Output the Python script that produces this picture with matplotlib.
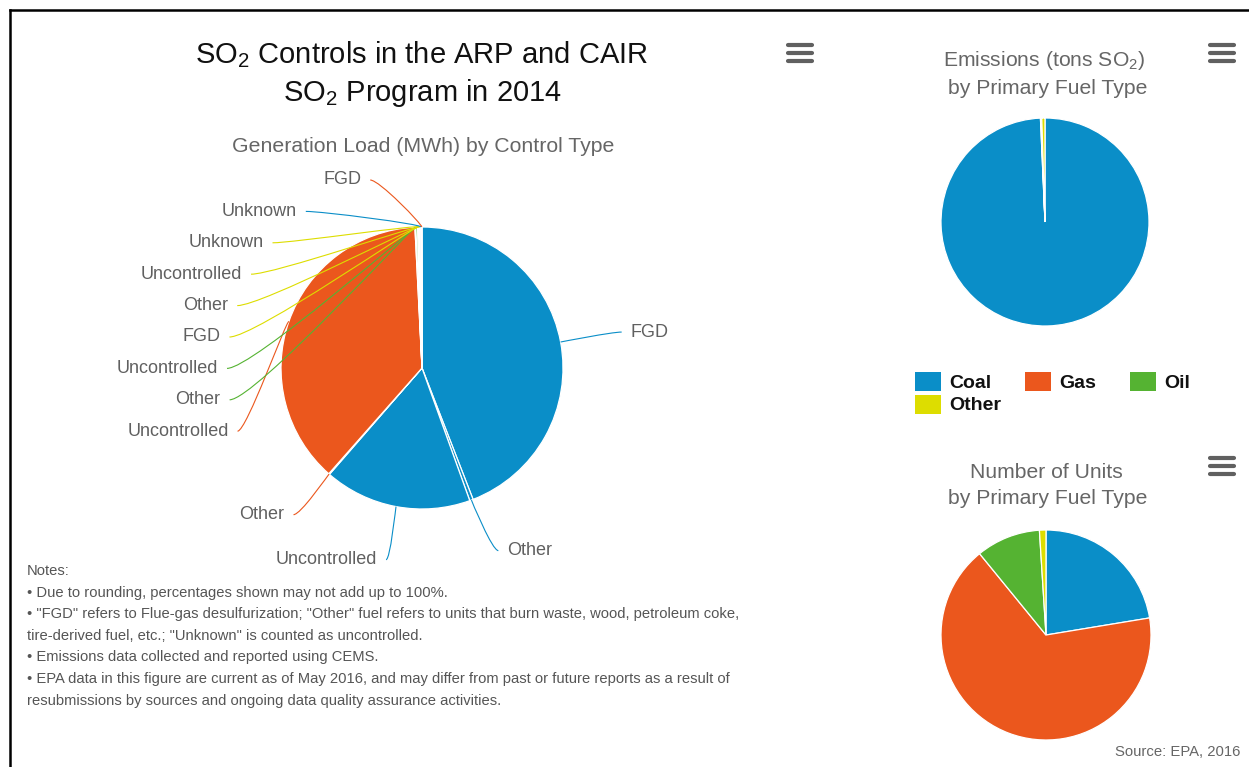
import matplotlib.pyplot as plt
import numpy as np
from matplotlib.path import Path
from matplotlib.patches import PathPatch, Rectangle

plt.rcParams['font.family'] = ['Liberation Sans', 'DejaVu Sans']
plt.rcParams['mathtext.fontset'] = 'custom'
plt.rcParams['mathtext.rm'] = 'Liberation Sans'

# generation load (MWh) by control type, percent of total, clockwise from top
gen_controls = ["FGD", "Other", "Uncontrolled", "Other", "Uncontrolled", "Other",
                "Uncontrolled", "FGD", "Other", "Uncontrolled", "Unknown", "Unknown", "FGD"]
gen_fuels = ["Coal", "Coal", "Coal", "Gas", "Gas", "Oil",
             "Oil", "Other", "Other", "Other", "Other", "Coal", "Gas"]
gen_values = [44.1, 0.4, 16.9, 0.1, 37.7, 0.1, 0.2, 0.1, 0.1, 0.1, 0.05, 0.1, 0.05]

fuel_types = ["Coal", "Gas", "Oil", "Other"]
emissions_values = [99.3, 0.1, 0.1, 0.5]
units_values = [22.4, 66.7, 9.9, 1.0]

colors = {"Coal": "#0a8ec8", "Gas": "#eb571d", "Oil": "#55b332", "Other": "#dddd00"}

notes = [
    "Notes:",
    "\u2022 Due to rounding, percentages shown may not add up to 100%.",
    "\u2022 \"FGD\" refers to Flue-gas desulfurization; \"Other\" fuel refers to units that burn waste, wood, petroleum coke,",
    "tire-derived fuel, etc.; \"Unknown\" is counted as uncontrolled.",
    "\u2022 Emissions data collected and reported using CEMS.",
    "\u2022 EPA data in this figure are current as of May 2016, and may differ from past or future reports as a result of",
    "resubmissions by sources and ongoing data quality assurance activities.",
]

W, H = 1249, 767
fig = plt.figure(figsize=(W / 100, H / 100), dpi=100)
ax = fig.add_axes([0, 0, 1, 1])


def py(y):
    # pixel row (from top) -> data y
    return H - y


def set_frame():
    ax.set_xlim(0, W)
    ax.set_ylim(0, H)
    ax.set_aspect('equal')
    ax.axis('off')


wedge_style = dict(edgecolor='white', linewidth=0.9)

# main pie
cx, cy, r = 422, py(368), 141
wedges, _ = ax.pie(gen_values, colors=[colors[f] for f in gen_fuels], startangle=90,
                   counterclock=False, center=(cx, cy), radius=r, wedgeprops=wedge_style)
set_frame()

# data labels with soft connectors (highcharts-like)
D = 195
step = 31.4
y_top = py(180)
items = []
for w, lab, fuel in zip(wedges, gen_controls, gen_fuels):
    mid = np.radians((w.theta1 + w.theta2) / 2)
    side = 1 if np.cos(mid) >= 0 else -1
    items.append(dict(mid=mid, side=side, lab=lab, col=colors[fuel],
                      ny=cy + D * np.sin(mid)))

for side in (-1, 1):
    group = sorted([it for it in items if it['side'] == side], key=lambda it: -it['ny'])
    prev = None
    for it in group:
        y = min(it['ny'], y_top)
        if prev is not None:
            y = min(y, prev - step)
        it['y'] = y
        prev = y

for it in items:
    s = it['side']
    dy = it['y'] - cy
    xe = cx + s * (np.sqrt(max(D ** 2 - dy ** 2, 0)) + (8 if s > 0 else 0))
    ca, sa = np.cos(it['mid']), np.sin(it['mid'])
    p_edge = (cx + r * ca, cy + r * sa)
    p_ctl = (cx + (r + 3) * ca, cy + (r + 3) * sa)
    c1 = (xe - s * (3 + 0.12 * abs(xe - p_edge[0])), it['y'])
    path = Path([(xe, it['y']), c1, p_ctl, p_edge],
                [Path.MOVETO, Path.CURVE4, Path.CURVE4, Path.CURVE4])
    ax.add_patch(PathPatch(path, facecolor='none', edgecolor=it['col'], lw=0.8))
    ax.text(xe + s * 9, it['y'], it['lab'], fontsize=13, color='#606060',
            ha='left' if s > 0 else 'right', va='center')

# emissions pie
ax.pie(emissions_values, colors=[colors[f] for f in fuel_types], startangle=90,
       counterclock=False, center=(1045, py(222)), radius=104, wedgeprops=wedge_style)
# units pie
ax.pie(units_values, colors=[colors[f] for f in fuel_types], startangle=90,
       counterclock=False, center=(1046, py(635)), radius=105, wedgeprops=wedge_style)
set_frame()

# titles
ax.text(422, py(55), r"SO$_{\mathregular{2}}$ Controls in the ARP and CAIR", fontsize=21,
        color='#111111', ha='center', va='center')
ax.text(422, py(93), r"SO$_{\mathregular{2}}$ Program in 2014", fontsize=21,
        color='#111111', ha='center', va='center')
ax.text(423, py(147), "Generation Load (MWh) by Control Type", fontsize=15.3,
        color='#666666', ha='center', va='center')
ax.text(1044, py(61), r"Emissions (tons SO$_{\mathregular{2}}$)", fontsize=15.2,
        color='#666666', ha='center', va='center')
ax.text(1048, py(88), "by Primary Fuel Type", fontsize=15.2,
        color='#666666', ha='center', va='center')
ax.text(1046, py(472), "Number of Units", fontsize=15.2,
        color='#666666', ha='center', va='center')
ax.text(1048, py(499), "by Primary Fuel Type", fontsize=15.2,
        color='#666666', ha='center', va='center')

# legend
leg_pos = [(915, 382), (1025, 382), (1130, 382), (915, 405)]
for (lx, ly), fuel in zip(leg_pos, fuel_types):
    ax.add_patch(Rectangle((lx, py(ly) - 9), 26, 19, facecolor=colors[fuel], edgecolor='none'))
    ax.text(lx + 34, py(ly + 1), fuel, fontsize=14, fontweight='bold', color='#111111',
            ha='left', va='center')

# notes
for i, line in enumerate(notes):
    ax.text(27, py(571 + i * 21.6), line, fontsize=10.6, color='#555555',
            ha='left', va='center')

ax.text(1240, py(752), "Source: EPA, 2016", fontsize=10.7, color='#666666',
        ha='right', va='center')

# menu icons
for mx, my in [(800, 53), (1222, 53), (1222, 466)]:
    for k in (-8, 0, 8):
        ax.plot([mx - 12, mx + 12], [py(my + k), py(my + k)], color='#606060',
                lw=3, solid_capstyle='round')

# frame border of the screenshot
ax.plot([10, 10], [0, py(10)], color='black', lw=1.8)
ax.plot([10, W], [py(10), py(10)], color='black', lw=1.8)
set_frame()

fig.savefig('out.png', dpi=100)
